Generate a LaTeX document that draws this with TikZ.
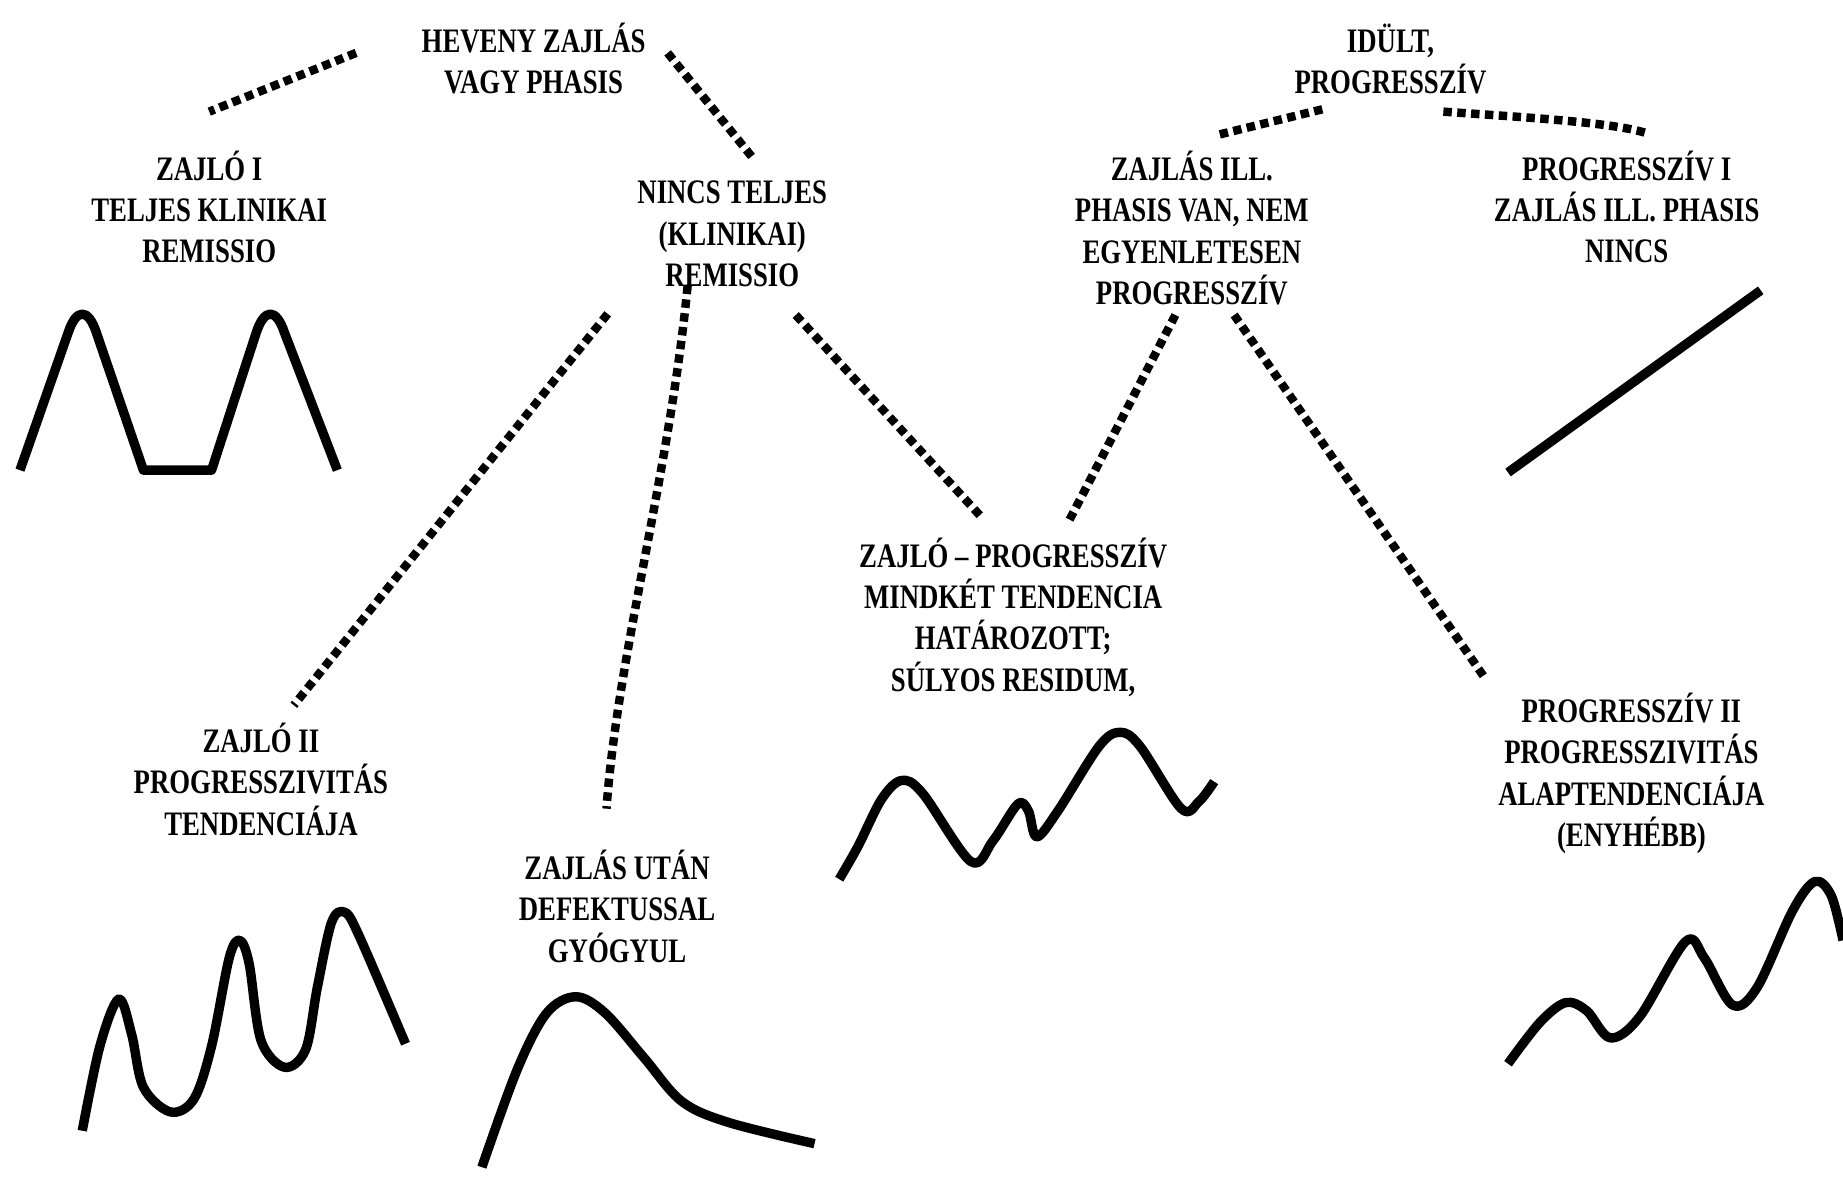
\documentclass[tikz,border=0pt]{standalone}
\usepackage{fontspec}
\setmainfont{Liberation Serif}[FakeStretch=0.78]
\tikzset{
  lbl/.style={align=center, inner sep=0pt, font=\fontsize{14.6}{17.6}\selectfont\bfseries},
  dotline/.style={line width=3.6pt, dash pattern=on 3.6pt off 2.3pt},
  curve/.style={line width=4pt, line join=round},
}
\begin{document}
\begin{tikzpicture}[x=0.5pt,y=-0.5pt]
\useasboundingbox (0,0) rectangle (1568,1001);
% labels
\node[lbl] (heveny) at (454,50) {HEVENY ZAJLÁS\\VAGY PHASIS};
\node[lbl] (idult) at (1183,50) {IDÜLT,\\PROGRESSZÍV};
\node[lbl] (zajloI) at (178,176) {ZAJLÓ I\\TELJES KLINIKAI\\REMISSIO};
\node[lbl] (nincs) at (623,199) {NINCS TELJES\\(KLINIKAI)\\REMISSIO};
\node[lbl] (zajlasill) at (1014,194) {ZAJLÁS ILL.\\PHASIS VAN, NEM\\EGYENLETESEN\\PROGRESSZÍV};
\node[lbl] (progI) at (1384,176) {PROGRESSZÍV I\\ZAJLÁS ILL. PHASIS\\NINCS};
\node[lbl] (zajloprog) at (862,525) {ZAJLÓ – PROGRESSZÍV\\MINDKÉT TENDENCIA\\HATÁROZOTT;\\SÚLYOS RESIDUM,};
\node[lbl] (zajloII) at (222,663) {ZAJLÓ II\\PROGRESSZIVITÁS\\TENDENCIÁJA};
\node[lbl] (zajlasutan) at (525,771) {ZAJLÁS UTÁN\\DEFEKTUSSAL\\GYÓGYUL};
\node[lbl] (progII) at (1388,658) {PROGRESSZÍV II\\PROGRESSZIVITÁS\\ALAPTENDENCIÁJA\\(ENYHÉBB)};
% connector end points
\coordinate (c1a) at (303,45); \coordinate (c1b) at (178,95);
\coordinate (c2a) at (568,45); \coordinate (c2b) at (641,135);
\coordinate (c3a) at (517,267); \coordinate (c3b) at (250,600);
\coordinate (c4a) at (585,243); \coordinate (c4b) at (516,688);
\coordinate (c5a) at (677,268); \coordinate (c5b) at (836,441);
\coordinate (c6a) at (1000,268); \coordinate (c6b) at (908,446);
\coordinate (c7a) at (1050,268); \coordinate (c7b) at (1262,575);
\coordinate (c8a) at (1125,93); \coordinate (c8b) at (1035,115);
\coordinate (c9a) at (1228,95); \coordinate (c9b) at (1400,113);
\draw[dotline] (c1a) -- (c1b);
\draw[dotline] (c2a) -- (c2b);
\draw[dotline] (c3a) -- (c3b);
\draw[dotline] (c4a) .. controls (570,400) and (525,560) .. (c4b);
\draw[dotline] (c5a) -- (c5b);
\draw[dotline] (c6a) -- (c6b);
\draw[dotline] (c7a) -- (c7b);
\draw[dotline] (c8a) -- (c8b);
\draw[dotline] (c9a) .. controls (1300,100) and (1370,104) .. (c9b);
% curves
\draw[curve] (17,400) -- (58,283) .. controls (65,262) and (75,262) .. (82,283) -- (122,400) -- (180,400) -- (218,283) .. controls (225,262) and (235,262) .. (242,283) -- (287,400);
\draw[curve] plot[smooth, tension=0.55] coordinates {(70,962) (85,890) (101,850) (112,880) (122,925) (145,946) (165,935) (180,890) (195,815) (204,800) (212,820) (222,885) (242,908) (260,893) (270,840) (282,785) (293,776) (305,795) (345,888)};
\draw[curve] plot[smooth, tension=0.55] coordinates {(410,993) (440,910) (465,862) (490,848) (515,862) (548,900) (580,937) (620,955) (693,973)};
\draw[curve] plot[smooth, tension=0.55] coordinates {(714,748) (730,720) (750,680) (767,664) (785,675) (826,733) (845,715) (866,684) (875,690) (882,712) (900,690) (935,635) (953,623) (970,635) (1005,688) (1020,682) (1033,665)};
\draw[curve] plot[smooth, tension=0.55] coordinates {(1283,905) (1310,870) (1332,853) (1350,860) (1370,883) (1395,865) (1434,801) (1450,815) (1474,855) (1495,840) (1525,775) (1544,750) (1558,762) (1568,800)};
\draw[curve] (1283,402) -- (1498,247);
\end{tikzpicture}
\end{document}
